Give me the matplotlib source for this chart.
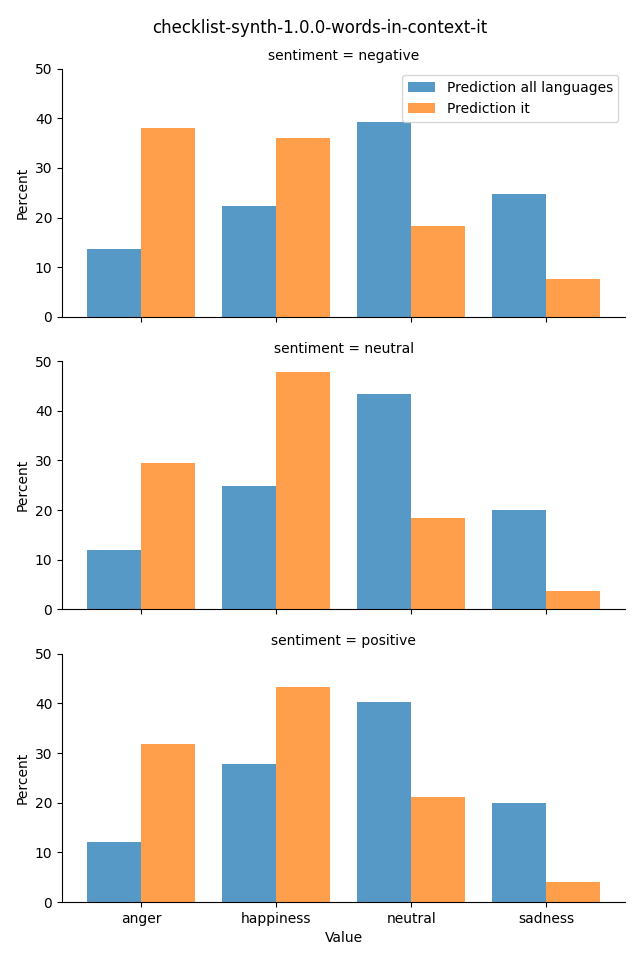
import matplotlib.pyplot as plt
import numpy as np

categories = ['anger', 'happiness', 'neutral', 'sadness']
sentiments = ['negative', 'neutral', 'positive']
all_langs = {
    'negative': [13.7, 22.4, 39.3, 24.8],
    'neutral': [11.9, 24.8, 43.3, 20.0],
    'positive': [12.1, 27.8, 40.3, 20.0],
}
pred_it = {
    'negative': [38.1, 36.1, 18.3, 7.7],
    'neutral': [29.4, 47.8, 18.5, 3.8],
    'positive': [31.9, 43.3, 21.2, 4.0],
}

fig, axes = plt.subplots(3, 1, figsize=(6.4, 9.6), dpi=100, sharex=True, sharey=True)
x = np.arange(len(categories))
w = 0.4

for ax, s in zip(axes, sentiments):
    ax.bar(x - w / 2, all_langs[s], w, color='tab:blue', alpha=0.75, label='Prediction all languages')
    ax.bar(x + w / 2, pred_it[s], w, color='tab:orange', alpha=0.75, label='Prediction it')
    ax.set_title(f'sentiment = {s}', fontsize=10)
    ax.set_ylabel('Percent')
    ax.set_ylim(0, 50)
    ax.spines['top'].set_visible(False)
    ax.spines['right'].set_visible(False)

axes[0].legend(loc='upper right')
axes[-1].set_xticks(x)
axes[-1].set_xticklabels(categories)
axes[-1].set_xlabel('Value')
axes[-1].set_xlim(-0.585, 3.585)

fig.suptitle('checklist-synth-1.0.0-words-in-context-it')
fig.subplots_adjust(left=0.097, right=0.977, top=0.9286, bottom=0.0604, hspace=0.178)
fig.savefig('out.png')
